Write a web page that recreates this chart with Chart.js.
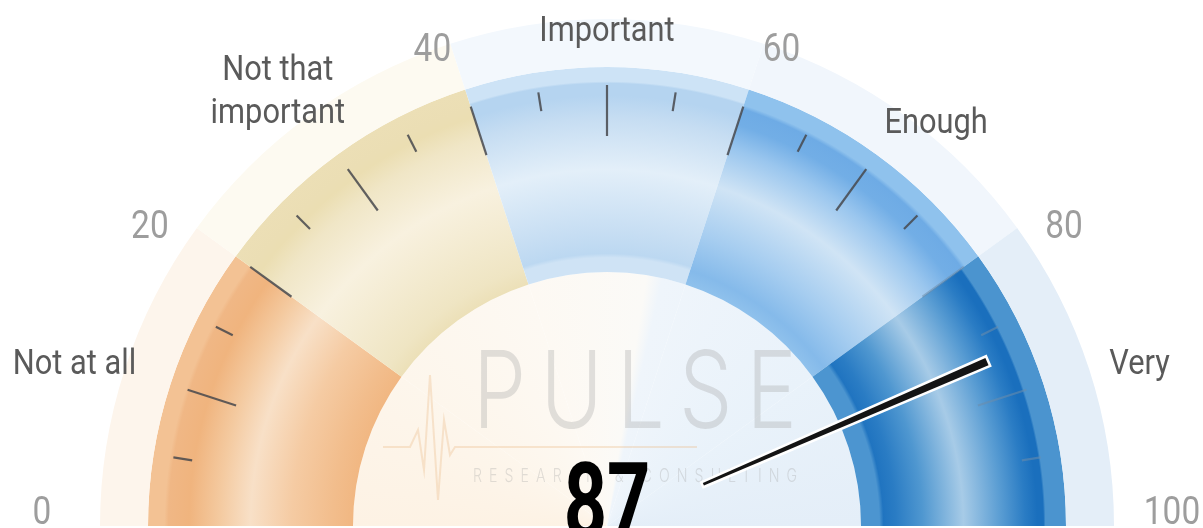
<!DOCTYPE html>
<html>
<head>
<meta charset="utf-8">
<title>Importance gauge</title>
<script src="https://cdn.jsdelivr.net/npm/chart.js@4.4.1/dist/chart.umd.min.js"></script>
<style>
  html, body { margin: 0; padding: 0; background: #fff; }
  canvas { display: block; }
</style>
</head>
<body>
<canvas id="gauge" width="1203" height="528"></canvas>
<script>
// gauge data
const categories = ["Not at all", ["Not that", "important"], "Important", "Enough", "Very"];
const bandValues = [20, 20, 20, 20, 20];
const tickLabels = ["0", "20", "40", "60", "80", "100"];
const score = 87;

// ring geometry (px)
const OUTER_R = 507;
const HALO_W = 48;
const BAND_W = 205;
const BAND_OUT = OUTER_R - HALO_W;
const BAND_IN = BAND_OUT - BAND_W;

const haloColors = ["#fdf5ec", "#fdfaf1", "#f3f8fd", "#f1f6fc", "#e4eef8"];

const bandStops = [
  [[0, "#f1b782"], [0.1, "#f2bd8c"], [0.3, "#f5cba3"], [0.5, "#f8e0c7"], [0.65, "#f4caa0"],
   [0.8, "#f0b47e"], [0.9, "#f0b785"], [0.92, "#f3c294"], [1, "#f3c294"]],
  [[0, "#ece0b8"], [0.08, "#efe5c3"], [0.5, "#f8f1df"], [0.75, "#f0e6c6"], [0.86, "#ebdeb2"],
   [0.9, "#ebdeb4"], [1, "#ecdfb6"]],
  [[0, "#cfe3f5"], [0.07, "#cfe3f5"], [0.09, "#bcd8f1"], [0.2, "#c7def3"], [0.5, "#e3eff9"],
   [0.75, "#c6ddf2"], [0.86, "#b5d4f0"], [0.92, "#b5d4f0"], [0.93, "#cde3f6"], [1, "#cde3f6"]],
  [[0, "#8fc1ec"], [0.07, "#85baea"], [0.25, "#a6cdf0"], [0.5, "#d0e4f5"], [0.7, "#9ac6ee"],
   [0.82, "#72aee6"], [0.9, "#6eabe5"], [0.92, "#8fc2ed"], [1, "#8fc2ed"]],
  [[0, "#4c95d0"], [0.09, "#4c95d0"], [0.11, "#2074c0"], [0.17, "#2a7cc4"], [0.3, "#4f97d0"],
   [0.5, "#a7cbe7"], [0.68, "#5a9dd3"], [0.8, "#2a7cc4"], [0.86, "#1a6fbd"], [0.89, "#1a6fbd"],
   [0.9, "#4b94cf"], [1, "#4b94cf"]]
];

function centreOf(chart) {
  const a = chart.chartArea;
  return { x: (a.left + a.right) / 2, y: (a.top + a.bottom) / 2 + OUTER_R / 2 };
}

function bandFill(context) {
  const chart = context.chart;
  const stops = bandStops[context.dataIndex];
  if (!chart.chartArea) return stops[0][1];
  const c = centreOf(chart);
  const g = chart.ctx.createRadialGradient(c.x, c.y, BAND_IN, c.x, c.y, BAND_OUT);
  stops.forEach(s => g.addColorStop(s[0], s[1]));
  return g;
}

function innerFill(context) {
  const chart = context.chart;
  if (!chart.chartArea) return "#fdf8f1";
  const c = centreOf(chart);
  const g = chart.ctx.createConicGradient(Math.PI, c.x, c.y);
  g.addColorStop(0, "#fdf2e4");
  g.addColorStop(0.1, "#fdf6ec");
  g.addColorStop(0.2, "#fdf9f3");
  g.addColorStop(0.275, "#fbfaf7");
  g.addColorStop(0.285, "#eff5fb");
  g.addColorStop(0.4, "#e9f2fa");
  g.addColorStop(0.5, "#e4eef8");
  g.addColorStop(1, "#e4eef8");
  return g;
}

const gaugeDecor = {
  id: "gaugeDecor",
  afterDatasetsDraw(chart) {
    const ctx = chart.ctx;
    const arc = chart.getDatasetMeta(1).data[0];
    const cx = arc.x, cy = arc.y;
    const total = bandValues.reduce((a, b) => a + b, 0);
    const ang = v => Math.PI + v / total * Math.PI;

    // tick marks every 5
    ctx.save();
    ctx.lineWidth = 2.2;
    for (let v = 5; v < total; v += 5) {
      const a = ang(v);
      const major = v % 10 === 0;
      const r0 = major ? 390 : 420, r1 = major ? 441 : 439;
      ctx.strokeStyle = v >= 80 ? "rgba(110,140,170,0.55)" : "rgba(70,72,76,0.85)";
      ctx.beginPath();
      ctx.moveTo(cx + r0 * Math.cos(a), cy + r0 * Math.sin(a));
      ctx.lineTo(cx + r1 * Math.cos(a), cy + r1 * Math.sin(a));
      ctx.stroke();
    }
    ctx.restore();

    const drawText = (txt, x, y, font, color, sx) => {
      ctx.save();
      ctx.font = font;
      ctx.fillStyle = color;
      ctx.textAlign = "center";
      ctx.textBaseline = "alphabetic";
      ctx.translate(x, y);
      ctx.scale(sx, 1);
      ctx.fillText(txt, 0, 0);
      ctx.restore();
    };

    // value labels 0..100
    tickLabels.forEach(t => {
      const th = Number(t) / total * Math.PI;
      const x = cx - 565 * Math.cos(th);
      const y = cy - 16 - 486 * Math.sin(th);
      drawText(t, x, y + 13.5, "38px Roboto", "#9d9d9d", 0.88);
    });

    // category labels at segment middles
    let acc = 0;
    categories.forEach((c, i) => {
      const mid = acc + bandValues[i] / 2;
      acc += bandValues[i];
      const th = mid / total * Math.PI;
      const x = cx - 560 * Math.cos(th);
      const y = cy - 16 - 482 * Math.sin(th);
      const lines = Array.isArray(c) ? c : [c];
      const shift = lines.length > 1 ? 10 : 0;
      lines.forEach((ln, j) => {
        const ly = y - shift - (lines.length - 1 - j) * 43;
        drawText(ln, x, ly + 12.5, "35px Roboto", "#5a5a5a", 0.88);
      });
    });

    // faint watermark
    ctx.save();
    ctx.strokeStyle = "rgba(236,190,140,0.35)";
    ctx.lineWidth = 2;
    ctx.beginPath();
    const ecg = [[-224, -79], [-197, -79], [-189, -96], [-183, -56], [-177, -151], [-169, -26],
                 [-163, -106], [-157, -71], [-152, -79], [90, -79]];
    ecg.forEach((p, i) => i ? ctx.lineTo(cx + p[0], cy + p[1]) : ctx.moveTo(cx + p[0], cy + p[1]));
    ctx.stroke();
    ctx.fillStyle = "rgba(160,160,160,0.3)";
    ctx.textAlign = "left";
    ctx.font = "300 107px Inter";
    ctx.letterSpacing = "18px";
    let w = ctx.measureText("PULSE").width - 18;
    ctx.save();
    ctx.translate(cx - 134, cy - 98);
    ctx.scale(324 / w, 1);
    ctx.fillText("PULSE", 0, 0);
    ctx.restore();
    ctx.font = "300 18px Inter";
    ctx.letterSpacing = "9px";
    w = ctx.measureText("RESEARCH & CONSULTING").width - 9;
    ctx.translate(cx - 134, cy - 44);
    ctx.scale(324 / w, 1);
    ctx.fillText("RESEARCH & CONSULTING", 0, 0);
    ctx.restore();

    // needle
    const a = ang(score);
    const dx = Math.cos(a), dy = Math.sin(a), nx = -dy, ny = dx;
    const r0 = 105, r1 = 414, w0 = 1.4, w1 = 4;
    ctx.save();
    ctx.beginPath();
    ctx.moveTo(cx + dx * r0 + nx * w0, cy + dy * r0 + ny * w0);
    ctx.lineTo(cx + dx * r1 + nx * w1, cy + dy * r1 + ny * w1);
    ctx.lineTo(cx + dx * r1 - nx * w1, cy + dy * r1 - ny * w1);
    ctx.lineTo(cx + dx * r0 - nx * w0, cy + dy * r0 - ny * w0);
    ctx.closePath();
    ctx.lineJoin = "miter";
    ctx.strokeStyle = "#ffffff";
    ctx.lineWidth = 5;
    ctx.stroke();
    ctx.fillStyle = "#141414";
    ctx.fill();
    ctx.restore();

    // value readout
    drawText(String(score), cx, cy + 12, "bold 105px Roboto", "#000000", 0.72);
  }
};

new Chart(document.getElementById("gauge"), {
  type: "doughnut",
  data: {
    labels: categories.map(c => Array.isArray(c) ? c.join(" ") : c),
    datasets: [
      { data: bandValues, backgroundColor: haloColors, weight: HALO_W },
      { data: bandValues, backgroundColor: bandFill, weight: BAND_W },
      { data: bandValues, backgroundColor: innerFill, weight: BAND_IN }
    ]
  },
  options: {
    responsive: false,
    animation: false,
    events: [],
    rotation: -90,
    circumference: 180,
    cutout: 0,
    radius: OUTER_R,
    borderWidth: 0,
    hoverBorderWidth: 0,
    layout: { padding: { left: 11, top: 17, right: 0, bottom: 0 } },
    plugins: { legend: { display: false }, tooltip: { enabled: false } }
  },
  plugins: [gaugeDecor]
});
</script>
</body>
</html>
